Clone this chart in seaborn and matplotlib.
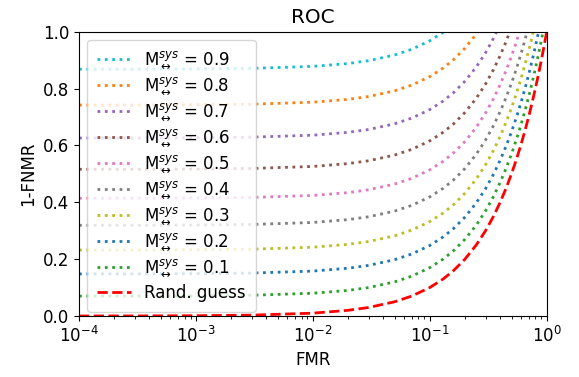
import matplotlib
matplotlib.use("Agg")
import matplotlib.pyplot as plt
import seaborn as sns
import numpy as np

# False match rate grid (x values)
fmr = [1e-4, 3e-4, 1e-3, 3e-3, 0.01, 0.02, 0.03, 0.05, 0.07, 0.1, 0.13, 0.16,
       0.2, 0.25, 0.3, 0.35, 0.4, 0.45, 0.5, 0.55, 0.6, 0.65, 0.7, 0.75, 0.8,
       0.85, 0.9, 0.95, 1.0]

m_levels = ["0.9", "0.8", "0.7", "0.6", "0.5", "0.4", "0.3", "0.2", "0.1"]

tpr_09 = [0.868, 0.868, 0.869, 0.871, 0.878, 0.888, 0.898, 0.918, 0.938, 0.968, 0.998, 1.028]
tpr_08 = [0.742, 0.742, 0.743, 0.745, 0.752, 0.762, 0.772, 0.792, 0.812, 0.842, 0.872, 0.902,
          0.942, 0.992, 1.042]
tpr_07 = [0.626, 0.626, 0.627, 0.629, 0.636, 0.646, 0.656, 0.676, 0.696, 0.726, 0.756, 0.786,
          0.826, 0.876, 0.926, 0.976, 1.026]
tpr_06 = [0.516, 0.516, 0.517, 0.519, 0.526, 0.536, 0.546, 0.566, 0.586, 0.616, 0.646, 0.676,
          0.716, 0.766, 0.816, 0.866, 0.916, 0.966, 1.016]
tpr_05 = [0.414, 0.414, 0.415, 0.417, 0.424, 0.434, 0.444, 0.464, 0.484, 0.514, 0.544, 0.574,
          0.614, 0.664, 0.714, 0.764, 0.814, 0.864, 0.914, 0.964, 1.014]
tpr_04 = [0.319, 0.319, 0.320, 0.322, 0.329, 0.339, 0.349, 0.369, 0.389, 0.419, 0.449, 0.479,
          0.519, 0.569, 0.619, 0.669, 0.719, 0.769, 0.819, 0.869, 0.919, 0.969, 1.019]
tpr_03 = [0.232, 0.232, 0.233, 0.235, 0.242, 0.252, 0.262, 0.282, 0.302, 0.332, 0.362, 0.392,
          0.432, 0.482, 0.532, 0.582, 0.632, 0.682, 0.732, 0.782, 0.832, 0.882, 0.932, 0.982,
          1.032]
tpr_02 = [0.148, 0.148, 0.149, 0.151, 0.158, 0.168, 0.178, 0.198, 0.218, 0.248, 0.278, 0.308,
          0.348, 0.398, 0.448, 0.498, 0.548, 0.598, 0.648, 0.698, 0.748, 0.798, 0.848, 0.898,
          0.948, 0.998, 1.048]
tpr_01 = [0.070, 0.070, 0.071, 0.073, 0.080, 0.090, 0.100, 0.120, 0.140, 0.170, 0.200, 0.230,
          0.270, 0.320, 0.370, 0.420, 0.470, 0.520, 0.570, 0.620, 0.670, 0.720, 0.770, 0.820,
          0.870, 0.920, 0.970, 1.020]
tpr_rand = [0.0001, 0.0003, 0.001, 0.003, 0.01, 0.02, 0.03, 0.05, 0.07, 0.1, 0.13, 0.16,
            0.2, 0.25, 0.3, 0.35, 0.4, 0.45, 0.5, 0.55, 0.6, 0.65, 0.7, 0.75, 0.8,
            0.85, 0.9, 0.95, 1.0]

series = [tpr_09, tpr_08, tpr_07, tpr_06, tpr_05, tpr_04, tpr_03, tpr_02, tpr_01]
colors = ["tab:cyan", "tab:orange", "tab:purple", "tab:brown", "tab:pink",
          "tab:gray", "tab:olive", "tab:blue", "tab:green"]

plt.rcParams["font.size"] = 12

fig = plt.figure(figsize=(5.79, 3.77), dpi=100)
ax = fig.add_axes([79 / 579, (377 - 316) / 377, (546.7 - 79) / 579, (316 - 31.7) / 377])

for lvl, ys, col in zip(m_levels, series, colors):
    sns.lineplot(x=fmr[:len(ys)], y=ys, ax=ax, color=col, linestyle=":", linewidth=2,
                 estimator=None, sort=False,
                 label=r"M$^{sys}_{\leftrightarrow}$ = " + lvl)

sns.lineplot(x=fmr, y=tpr_rand, ax=ax, color="red", linestyle="--", linewidth=2,
             estimator=None, sort=False, label="Rand. guess")

ax.set_xscale("log")
ax.set_xlim(1e-4, 1)
ax.set_ylim(0, 1)
ax.set_yticks([0.0, 0.2, 0.4, 0.6, 0.8, 1.0])
ax.set_title("ROC")
ax.set_xlabel("FMR")
ax.set_ylabel("1-FNMR")
ax.legend(loc="upper left", labelspacing=0.29, borderpad=0.6)

fig.savefig("out.png", dpi=100)
